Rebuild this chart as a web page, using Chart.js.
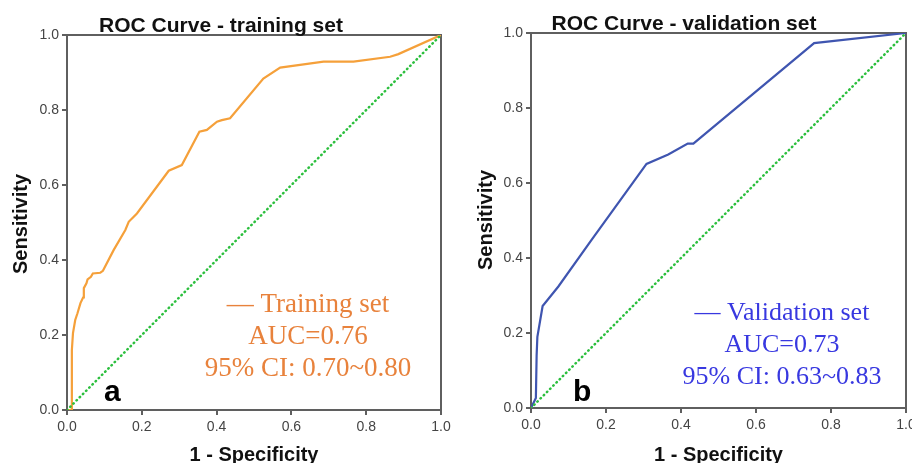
<!DOCTYPE html>
<html>
<head>
<meta charset="utf-8">
<script src="https://cdn.jsdelivr.net/npm/chart.js@4"></script>
<style>
    html, body { margin: 0; padding: 0; width: 912px; height: 463px; overflow: hidden; background: #fff; }
    #chartA { position: absolute; left: 0; top: 0; }
    #chartB { position: absolute; left: 460px; top: 0; }
</style>
</head>
<body>
<canvas id="chartA" width="460" height="463"></canvas>
<canvas id="chartB" width="470" height="463"></canvas>
<script>
// values (x = 1 - specificity, y = sensitivity)
const trainingX = [0, 0.013, 0.013, 0.016, 0.022, 0.028, 0.036, 0.043, 0.045, 0.052, 0.055, 0.064, 0.069, 0.089, 0.096, 0.125, 0.156, 0.165, 0.187, 0.272, 0.307, 0.354, 0.374, 0.401, 0.414, 0.436, 0.525, 0.570, 0.686, 0.766, 0.864, 0.886, 1.0];
const trainingY = [0, 0, 0.16, 0.205, 0.24, 0.258, 0.285, 0.30, 0.325, 0.338, 0.348, 0.355, 0.364, 0.366, 0.371, 0.427, 0.48, 0.502, 0.524, 0.638, 0.653, 0.742, 0.747, 0.769, 0.773, 0.778, 0.884, 0.913, 0.929, 0.929, 0.942, 0.949, 1.0];

const validationX = [0, 0.013, 0.015, 0.017, 0.031, 0.073, 0.162, 0.308, 0.366, 0.418, 0.433, 0.755, 1.0];
const validationY = [0, 0.027, 0.14, 0.19, 0.272, 0.324, 0.449, 0.651, 0.676, 0.705, 0.705, 0.973, 1.0];

const diagonalX = [0, 1];
const diagonalY = [0, 1];

const tickValues = [0, 0.2, 0.4, 0.6, 0.8, 1.0];

const xTitle = '1 - Specificity';
const yTitle = 'Sensitivity';
const trainingTitle = 'ROC Curve - training set';
const validationTitle = 'ROC Curve - validation set';
const trainingNote = ['\u2014 Training set', 'AUC=0.76', '95% CI: 0.70~0.80'];
const validationNote = ['\u2014 Validation set', 'AUC=0.73', '95% CI: 0.63~0.83'];

const SANS = '"Liberation Sans", Arial, sans-serif';
const SERIF = '"Liberation Serif", "Times New Roman", serif';

function toPoints(xs, ys) {
    return xs.map((x, i) => ({ x: x, y: ys[i] }));
}

// titles, box, notes and panel letter drawn straight on the canvas
function decorPlugin(opt) {
    return {
        id: 'decor',
        beforeDatasetsDraw(chart) {
            const ctx = chart.ctx;
            const a = chart.chartArea;
            ctx.save();
            ctx.strokeStyle = '#5f5f5f';
            ctx.lineWidth = 2;
            ctx.strokeRect(a.left, a.top, a.right - a.left, a.bottom - a.top);
            ctx.restore();
        },
        afterDraw(chart) {
            const ctx = chart.ctx;
            const a = chart.chartArea;
            ctx.save();
            ctx.fillStyle = '#111';
            ctx.textBaseline = 'alphabetic';

            ctx.font = 'bold 21px ' + SANS;
            ctx.textAlign = 'center';
            ctx.fillText(opt.title, opt.titleX, opt.titleY);

            ctx.font = 'bold 20px ' + SANS;
            ctx.fillText(xTitle, (a.left + a.right) / 2, 461);

            ctx.save();
            ctx.translate(opt.yTitleX, opt.yTitleY);
            ctx.rotate(-Math.PI / 2);
            ctx.fillText(yTitle, 0, 0);
            ctx.restore();

            ctx.font = 'bold 30px ' + SANS;
            ctx.textAlign = 'left';
            ctx.fillStyle = '#000';
            ctx.fillText(opt.letter, opt.letterX, 401);

            ctx.font = opt.noteSize + 'px ' + SERIF;
            ctx.textAlign = 'center';
            ctx.fillStyle = opt.noteColor;
            opt.note.forEach((line, i) => {
                ctx.fillText(line, opt.noteX, opt.noteY + i * 32);
            });
            ctx.restore();
        }
    };
}

function createRoc(canvasId, xs, ys, lineColor, axisW, axisH, padding, opt) {
    const axisStyle = {
        grid: { display: true, drawOnChartArea: false, drawTicks: true, tickLength: 5, color: '#5f5f5f', lineWidth: 2 },
        border: { display: false }
    };
    return new Chart(document.getElementById(canvasId), {
        type: 'scatter',
        data: {
            datasets: [
                {
                    data: toPoints(diagonalX, diagonalY),
                    showLine: true,
                    borderColor: '#2cbf3e',
                    borderWidth: 2.5,
                    borderDash: [0.5, 4],
                    borderCapStyle: 'round',
                    pointRadius: 0
                },
                {
                    data: toPoints(xs, ys),
                    showLine: true,
                    borderColor: lineColor,
                    borderWidth: 2.2,
                    pointRadius: 0,
                    tension: 0
                }
            ]
        },
        options: {
            responsive: false,
            animation: false,
            layout: { padding: padding },
            plugins: { legend: { display: false }, tooltip: { enabled: false } },
            scales: {
                x: {
                    type: 'linear',
                    min: 0,
                    max: 1,
                    afterFit: s => { s.height = axisH; },
                    afterBuildTicks: s => { s.ticks = tickValues.map(v => ({ value: v })); },
                    ticks: {
                        color: '#444',
                        font: { family: SANS, size: 14 },
                        padding: 4,
                        maxRotation: 0,
                        callback: v => v.toFixed(1)
                    },
                    ...axisStyle
                },
                y: {
                    type: 'linear',
                    min: 0,
                    max: 1,
                    afterFit: s => { s.width = axisW; },
                    afterBuildTicks: s => { s.ticks = tickValues.map(v => ({ value: v })); },
                    ticks: {
                        color: '#444',
                        font: { family: SANS, size: 14 },
                        padding: 3,
                        callback: v => v.toFixed(1)
                    },
                    ...axisStyle
                }
            }
        },
        plugins: [decorPlugin(opt)]
    });
}

createRoc('chartA', trainingX, trainingY, '#f5a03a', 67, 53, { left: 0, top: 35, right: 19, bottom: 0 }, {
    title: trainingTitle, titleX: 221, titleY: 32,
    yTitleX: 27, yTitleY: 224,
    letter: 'a', letterX: 104,
    note: trainingNote, noteColor: '#e8823c', noteSize: 27, noteX: 308, noteY: 312
});

createRoc('chartB', validationX, validationY, '#3f55b0', 71, 55, { left: 0, top: 33, right: 24, bottom: 0 }, {
    title: validationTitle, titleX: 224, titleY: 30,
    yTitleX: 32, yTitleY: 220,
    letter: 'b', letterX: 113,
    note: validationNote, noteColor: '#3838e0', noteSize: 26, noteX: 322, noteY: 320
});
</script>
</body>
</html>
